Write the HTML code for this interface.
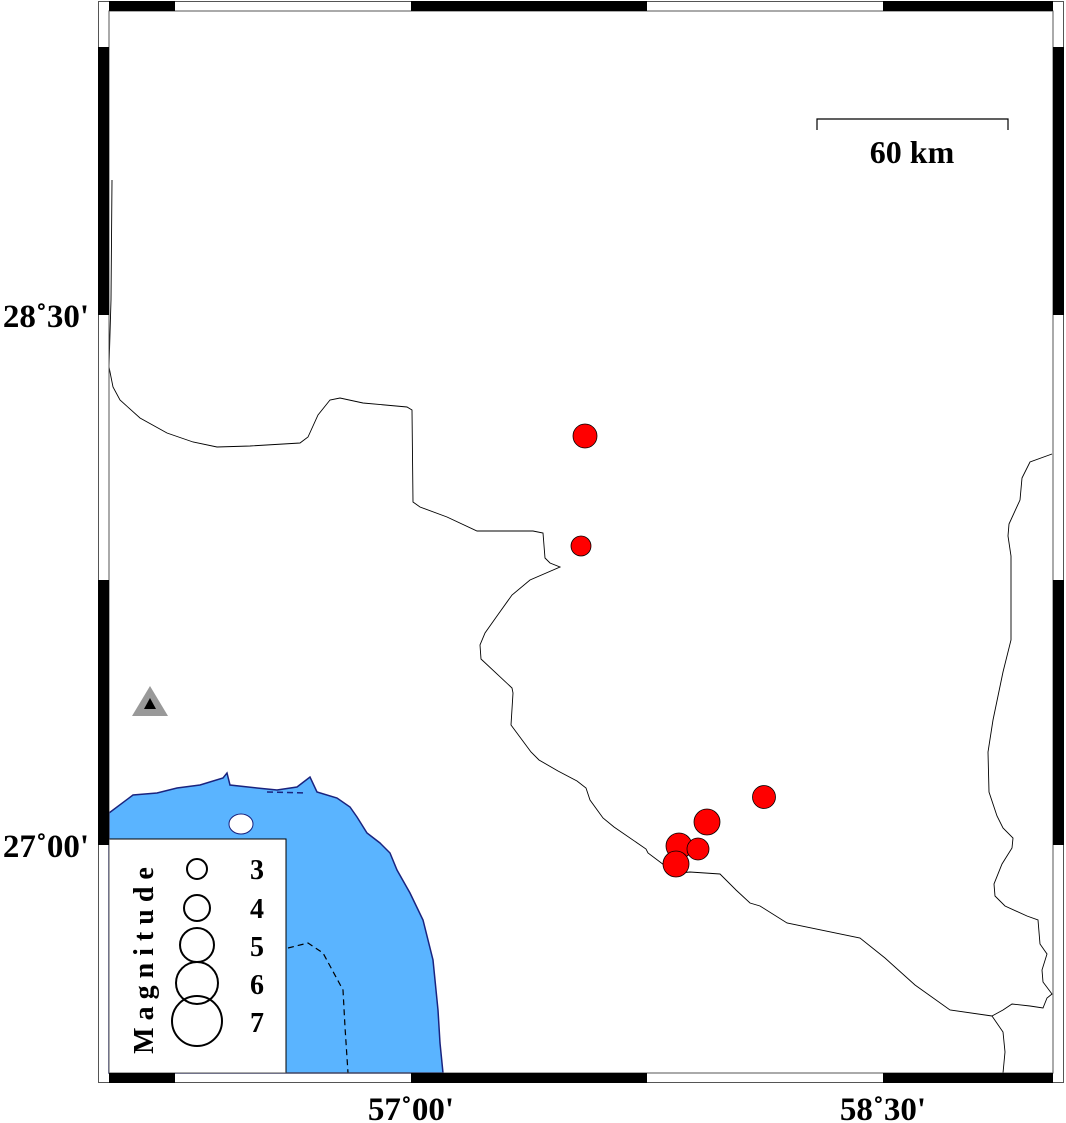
<!DOCTYPE html>
<html><head><meta charset="utf-8"><style>
html,body{margin:0;padding:0;background:#fff;}
svg{display:block;}
text{font-family:"Liberation Serif",serif;font-weight:bold;fill:#000;}
</style></head><body>
<svg width="1066" height="1123" viewBox="0 0 1066 1123" xmlns="http://www.w3.org/2000/svg">
<path d="M109,813 L133,795 L157,793 L177,788 L200,785 L223,778 L227,773 L230,785 L257,788 L277,790 L297,787 L310,777 L317,792 L337,798 L350,807 L357,817 L367,833 L380,843 L390,853 L397,870 L410,893 L423,920 L433,960 L438,1010 L440,1043 L443,1073 L109,1073 Z" fill="#5AB4FF" stroke="#1a237e" stroke-width="1.5"/>
<ellipse cx="241" cy="824" rx="12" ry="10" fill="#fff" stroke="#1a237e" stroke-width="1"/>
<path d="M288,948 L308,943 L323,953 L343,990 L345,1027 L348,1073" fill="none" stroke="#000" stroke-width="1.2" stroke-dasharray="6,4"/>
<path d="M267,792 L307,793" fill="none" stroke="#1a237e" stroke-width="1.5" stroke-dasharray="6,4"/>
<path d="M112,180 L111,300 L109,367 L113,387 L120,400 L140,418 L167,433 L193,442 L217,447 L250,446 L300,443 L308,437 L318,415 L330,400 L340,398 L363,403 L407,407 L412,410 L413,502 L420,507 L447,517 L477,531 L533,531 L543,533 L545,558 L550,563 L560,567 L530,580 L512,595 L497,616 L485,633 L480,645 L481,659 L512,688 L513,693 L511,725 L531,752 L539,760 L558,771 L577,781 L586,788 L590,800 L603,818 L614,827 L646,849 L648,853 L664,865 L680,873 L690,872 L720,874 L736,890 L750,903 L760,906 L787,923 L860,938 L885,958 L915,985 L950,1010 L992,1016" fill="none" stroke="#000" stroke-width="0.9"/>
<path d="M1052,454 L1030,462 L1022,478 L1020,500 L1009,524 L1008,536 L1011,556 L1011,640 L1003,672 L993,720 L988,752 L989,792 L997,816 L1003,828 L1013,838 L1012,848 L1002,864 L994,884 L995,896 L1005,906 L1027,916 L1038,920 L1040,944 L1047,954 L1042,970 L1043,982 L1052,994 L1047,998 L1043,1008 L1030,1006 L1012,1004 L1003,1010 L992,1016 L1003,1032 L1005,1052 L1003,1073" fill="none" stroke="#000" stroke-width="0.9"/>
<g fill="#ff0000" stroke="#000" stroke-width="0.8">
<circle cx="585" cy="436" r="12"/>
<circle cx="581" cy="546" r="10"/>
<circle cx="764" cy="797" r="11.5"/>
<circle cx="707" cy="822" r="13"/>
<circle cx="679" cy="846" r="13"/>
<circle cx="698" cy="849" r="11"/>
<circle cx="676" cy="864" r="13"/>
</g>
<polygon points="150,686 132,716 168,716" fill="#999"/>
<polygon points="150,698 144,709 156,709" fill="#000"/>
<rect x="109" y="839" width="177" height="234" fill="#fff" stroke="#000" stroke-width="1"/>
<text transform="translate(153,957) rotate(-90)" text-anchor="middle" font-size="28" letter-spacing="7">Magnitude</text>
<g fill="none" stroke="#000" stroke-width="2">
<circle cx="197" cy="869" r="10"/>
<circle cx="197" cy="908" r="13"/>
<circle cx="197" cy="945" r="17"/>
<circle cx="197" cy="983" r="21"/>
<circle cx="197" cy="1021" r="25"/>
</g>
<g font-size="28" text-anchor="middle">
<text x="257" y="879">3</text>
<text x="257" y="918">4</text>
<text x="257" y="956">5</text>
<text x="257" y="994">6</text>
<text x="257" y="1032">7</text>
</g>
<path d="M817,130 L817,119 L1008,119 L1008,130" fill="none" stroke="#000" stroke-width="1.2"/>
<text x="912" y="163" font-size="32" text-anchor="middle">60 km</text>
<rect x="98.5" y="1.5" width="965" height="1081" fill="none" stroke="#555" stroke-width="1"/>
<rect x="109" y="11" width="944" height="1062" fill="none" stroke="#555" stroke-width="1"/>
<g fill="#000">
<rect x="109" y="1" width="66" height="10"/><rect x="411" y="1" width="236" height="10"/><rect x="883" y="1" width="170" height="10"/>
<rect x="109" y="1073" width="66" height="10"/><rect x="411" y="1073" width="236" height="10"/><rect x="883" y="1073" width="170" height="10"/>
<rect x="98" y="47" width="11" height="268"/><rect x="98" y="580" width="11" height="265"/>
<rect x="1053" y="47" width="11" height="268"/><rect x="1053" y="580" width="11" height="265"/>
</g>
<g font-size="33">
<text x="46" y="327" text-anchor="middle">28˚30'</text>
<text x="46" y="857" text-anchor="middle">27˚00'</text>
<text x="411" y="1120" text-anchor="middle">57˚00'</text>
<text x="883" y="1120" text-anchor="middle">58˚30'</text>
</g>
</svg>
</body></html>
